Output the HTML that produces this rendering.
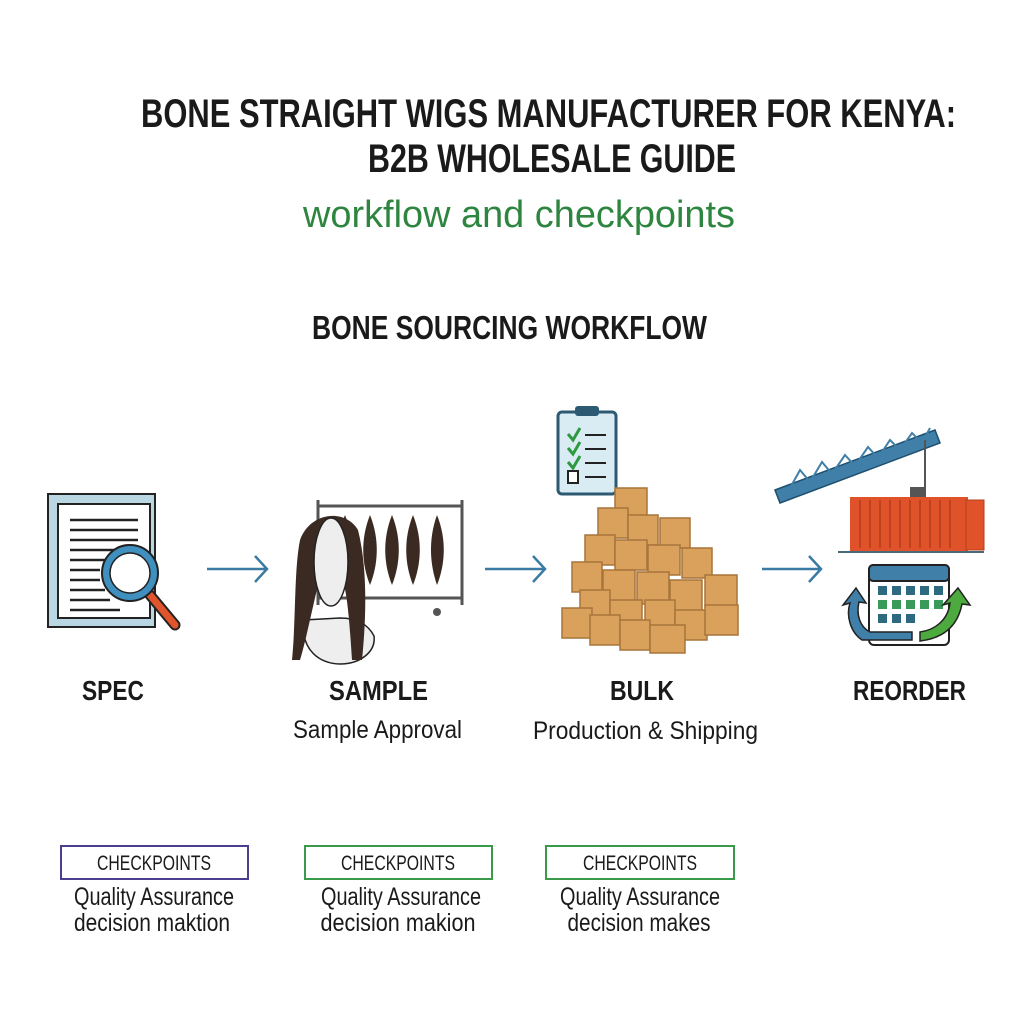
<!DOCTYPE html>
<html><head><meta charset="utf-8"><style>
html,body{margin:0;padding:0;background:#fff;width:1024px;height:1024px;overflow:hidden}
svg text{font-family:"Liberation Sans",sans-serif}
</style></head><body>
<svg width="1024" height="1024" viewBox="0 0 1024 1024" xmlns="http://www.w3.org/2000/svg">
<rect width="1024" height="1024" fill="#fff"/>
<g fill="#1a1a1a" font-weight="bold">
<text x="141" y="127" font-size="40" textLength="815" lengthAdjust="spacingAndGlyphs">BONE STRAIGHT WIGS MANUFACTURER FOR KENYA:</text>
<text x="368" y="172" font-size="40" textLength="368" lengthAdjust="spacingAndGlyphs">B2B WHOLESALE GUIDE</text>
<text x="312" y="339" font-size="33" textLength="395" lengthAdjust="spacingAndGlyphs">BONE SOURCING WORKFLOW</text>
</g>
<text x="303" y="227" font-size="38" fill="#2e8540" textLength="432" lengthAdjust="spacingAndGlyphs">workflow and checkpoints</text>

<!-- arrows -->
<g stroke="#3a7aa3" stroke-width="2.5" fill="none">
<path d="M207 569H266M255 556L267 569L255 582"/>
<path d="M485 569H544M533 556L545 569L533 582"/>
<path d="M762 569H820M809 556L821 569L809 582"/>
</g>

<!-- SPEC icon -->
<rect x="48" y="494" width="107" height="133" fill="#b9d6e3" stroke="#222" stroke-width="2"/>
<rect x="58" y="504" width="92" height="114" fill="#fff" stroke="#222" stroke-width="2"/>
<g stroke="#222" stroke-width="2.5">
<path d="M70 520H138M70 530H138M70 540H138M70 550H138M70 560H105M70 570H100M70 580H100M70 590H105M70 600H110M70 610H120"/>
</g>
<path d="M150 595L175 625" stroke="#222" stroke-width="11" stroke-linecap="round"/>
<path d="M150 595L175 625" stroke="#e0552b" stroke-width="7" stroke-linecap="round"/>
<circle cx="130" cy="573" r="28" fill="#3f8fbf" stroke="#222" stroke-width="2"/>
<circle cx="130" cy="573" r="20" fill="#fff" stroke="#222" stroke-width="1.5"/>

<!-- SAMPLE icon -->
<g stroke="#555" stroke-width="3" fill="none">
<path d="M318 500V605M462 500V605M318 506H462M318 598H462"/>
</g>
<circle cx="437" cy="612" r="4" fill="#555"/>
<g fill="#3b2a22">
<path d="M345 515C335 540 338 565 345 583C352 565 355 540 345 515Z"/>
<path d="M370 515C360 540 362 565 370 585C378 565 380 540 370 515Z"/>
<path d="M392 515C382 540 384 565 392 585C400 565 402 540 392 515Z"/>
<path d="M413 515C403 540 405 565 413 585C421 565 423 540 413 515Z"/>
<path d="M437 515C428 540 430 565 437 585C445 565 447 540 437 515Z"/>
</g>
<path d="M304 620C300 650 320 664 340 664C360 664 376 652 374 636C368 624 356 618 340 618Z" fill="#eee" stroke="#222" stroke-width="1.5"/>
<path d="M300 540C310 512 345 508 358 530C368 570 366 620 362 660L352 660C350 630 348 600 344 585L318 585C312 610 306 640 300 660L292 660C296 620 294 570 300 540Z" fill="#3b2a22"/>
<ellipse cx="331" cy="562" rx="17" ry="44" fill="#eee" stroke="#222" stroke-width="1.5"/>

<!-- BULK icon -->
<rect x="558" y="412" width="58" height="82" rx="4" fill="#d9ecf3" stroke="#2c5a73" stroke-width="3"/>
<rect x="575" y="406" width="24" height="10" rx="3" fill="#2c5a73"/>
<g stroke="#222" stroke-width="2" fill="none">
<path d="M585 435H606M585 449H606M585 463H606M585 477H606"/>
<rect x="568" y="471" width="10" height="12" fill="#fff"/>
</g>
<g stroke="#2e9a40" stroke-width="3" fill="none">
<path d="M568 434L573 440L580 428M568 448L573 454L580 442M568 462L573 468L580 456"/>
</g>
<g fill="#d9a15c" stroke="#a8743a" stroke-width="1.5">
<rect x="615" y="488" width="32" height="30"/>
<rect x="598" y="508" width="30" height="30"/>
<rect x="628" y="515" width="30" height="30"/>
<rect x="660" y="518" width="30" height="30"/>
<rect x="585" y="535" width="30" height="30"/>
<rect x="615" y="540" width="32" height="30"/>
<rect x="648" y="545" width="32" height="30"/>
<rect x="682" y="548" width="30" height="30"/>
<rect x="572" y="562" width="30" height="30"/>
<rect x="603" y="570" width="32" height="32"/>
<rect x="637" y="572" width="32" height="32"/>
<rect x="670" y="580" width="32" height="32"/>
<rect x="705" y="575" width="32" height="32"/>
<rect x="580" y="590" width="30" height="30"/>
<rect x="610" y="600" width="32" height="30"/>
<rect x="645" y="600" width="30" height="30"/>
<rect x="675" y="610" width="32" height="30"/>
<rect x="705" y="605" width="33" height="30"/>
<rect x="562" y="608" width="30" height="30"/>
<rect x="590" y="615" width="30" height="30"/>
<rect x="620" y="620" width="30" height="30"/>
<rect x="650" y="625" width="35" height="28"/>
</g>

<!-- REORDER icon -->
<path d="M775 490L935 430L940 443L780 503Z" fill="#3f7fa8" stroke="#1f4f6f" stroke-width="1.5"/>
<path d="M790 488L800 470L810 482L822 462L832 474L845 455L855 466L868 447L878 458L890 440L900 450L912 433L922 443L930 428" fill="none" stroke="#3f7fa8" stroke-width="2"/>
<path d="M925 440V487" stroke="#555" stroke-width="2"/>
<rect x="910" y="487" width="16" height="10" fill="#555"/>
<rect x="850" y="497" width="118" height="54" fill="#e0522a"/>
<g stroke="#b33d1a" stroke-width="1.5"><path d="M860 500V548M870 500V548M880 500V548M890 500V548M900 500V548M910 500V548M920 500V548M930 500V548M940 500V548M950 500V548"/></g>
<rect x="966" y="500" width="18" height="50" fill="#e0522a" stroke="#b33d1a"/>
<path d="M838 552H984" stroke="#4a6a7a" stroke-width="2"/>
<rect x="869" y="565" width="80" height="80" rx="5" fill="#fff" stroke="#222" stroke-width="2"/>
<rect x="869" y="565" width="80" height="16" rx="4" fill="#3f7fa8" stroke="#222" stroke-width="2"/>
<g fill="#2d6a80">
<rect x="878" y="586" width="9" height="9"/><rect x="892" y="586" width="9" height="9"/><rect x="906" y="586" width="9" height="9"/><rect x="920" y="586" width="9" height="9"/><rect x="934" y="586" width="9" height="9"/>
</g>
<g fill="#3a9a5a">
<rect x="878" y="600" width="9" height="9"/><rect x="892" y="600" width="9" height="9"/><rect x="906" y="600" width="9" height="9"/><rect x="920" y="600" width="9" height="9"/><rect x="934" y="600" width="9" height="9"/>
</g>
<g fill="#2d6a80">
<rect x="878" y="614" width="9" height="9"/><rect x="892" y="614" width="9" height="9"/><rect x="906" y="614" width="9" height="9"/>
</g>
<path d="M870 632H912V640H862C850 632 846 615 850 603L843 605L856 588L866 603L859 602C856 615 860 627 870 632Z" fill="#3f7fa8" stroke="#222" stroke-width="1.5"/>
<path d="M920 632C935 630 948 620 950 603L943 605L958 588L970 605L962 604C958 625 945 638 920 641Z" fill="#4caa3f" stroke="#222" stroke-width="1.5"/>

<!-- labels -->
<g fill="#1a1a1a" font-weight="bold" font-size="28">
<text x="82" y="700" textLength="62" lengthAdjust="spacingAndGlyphs">SPEC</text>
<text x="329" y="700" textLength="99" lengthAdjust="spacingAndGlyphs">SAMPLE</text>
<text x="610" y="700" textLength="64" lengthAdjust="spacingAndGlyphs">BULK</text>
<text x="853" y="700" textLength="113" lengthAdjust="spacingAndGlyphs">REORDER</text>
</g>
<g fill="#1a1a1a" font-size="25">
<text x="293" y="738" textLength="169" lengthAdjust="spacingAndGlyphs">Sample Approval</text>
<text x="533" y="739" textLength="225" lengthAdjust="spacingAndGlyphs">Production &amp; Shipping</text>
</g>

<!-- checkpoints -->
<rect x="61" y="846" width="187" height="33" fill="#fff" stroke="#4a3f8f" stroke-width="2"/>
<rect x="305" y="846" width="187" height="33" fill="#fff" stroke="#3a9a4a" stroke-width="2"/>
<rect x="546" y="846" width="188" height="33" fill="#fff" stroke="#3a9a4a" stroke-width="2"/>
<g fill="#1a1a1a" font-size="21" text-anchor="middle">
<text x="154" y="870" textLength="114" lengthAdjust="spacingAndGlyphs">CHECKPOINTS</text>
<text x="398" y="870" textLength="114" lengthAdjust="spacingAndGlyphs">CHECKPOINTS</text>
<text x="640" y="870" textLength="114" lengthAdjust="spacingAndGlyphs">CHECKPOINTS</text>
</g>
<g fill="#1a1a1a" font-size="25" text-anchor="middle">
<text x="154" y="905" textLength="160" lengthAdjust="spacingAndGlyphs">Quality Assurance</text>
<text x="152" y="931" textLength="156" lengthAdjust="spacingAndGlyphs">decision maktion</text>
<text x="401" y="905" textLength="160" lengthAdjust="spacingAndGlyphs">Quality Assurance</text>
<text x="398" y="931" textLength="155" lengthAdjust="spacingAndGlyphs">decision makion</text>
<text x="640" y="905" textLength="160" lengthAdjust="spacingAndGlyphs">Quality Assurance</text>
<text x="639" y="931" textLength="143" lengthAdjust="spacingAndGlyphs">decision makes</text>
</g>
</svg>
</body></html>
